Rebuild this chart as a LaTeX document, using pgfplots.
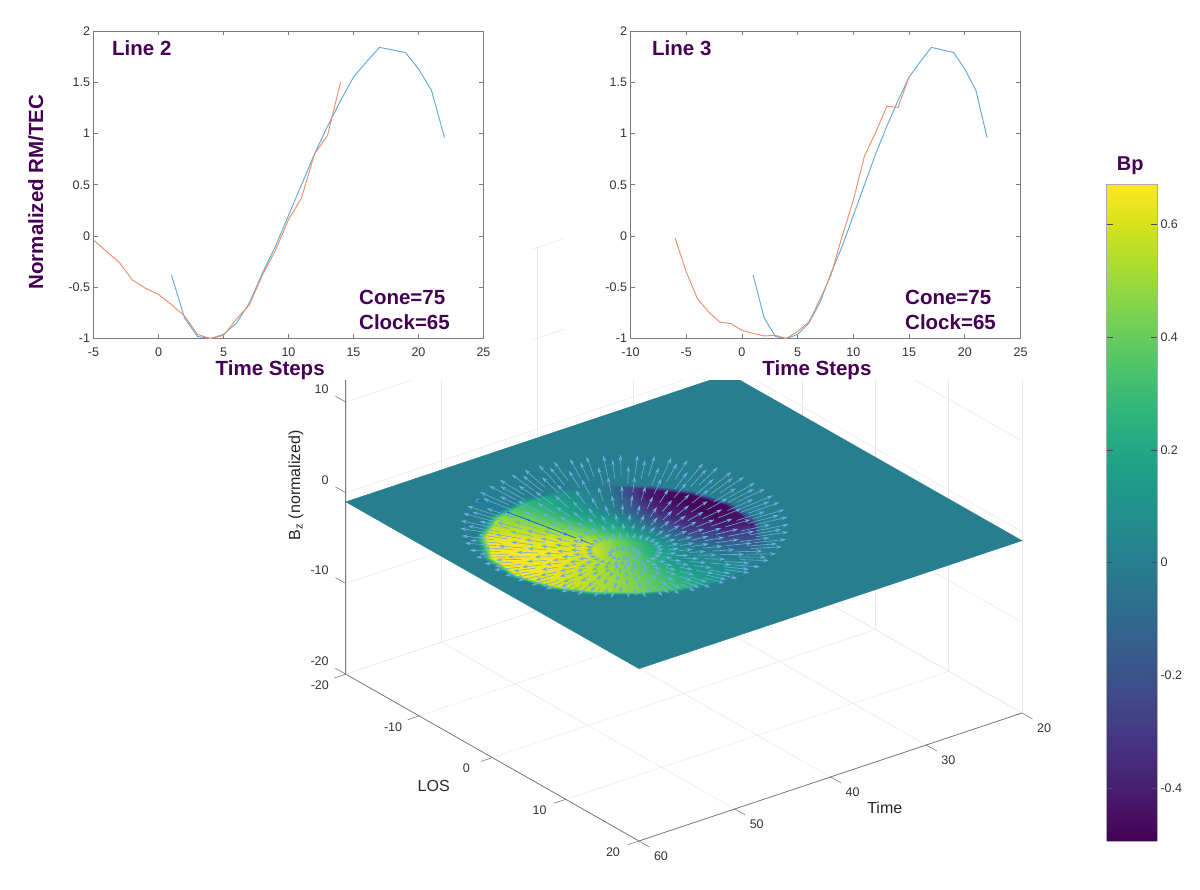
\documentclass[border=0pt]{standalone}
\usepackage{fontspec}
\setmainfont{Liberation Sans}
\usepackage{pgfplots}
\usepackage{pgfplotstable}
\pgfplotsset{compat=1.18}
\usetikzlibrary{arrows.meta}
\definecolor{labelpurple}{HTML}{440154}
\definecolor{lineblue}{HTML}{5AA7DC}
\definecolor{lineorange}{HTML}{EE8C66}
\definecolor{arrowblue}{HTML}{6AAEE0}
\definecolor{axisgray}{HTML}{7A7A7A}
\definecolor{ticktext}{HTML}{333333}

% Bp on the disc: angle, radius, value
\pgfplotstableread[row sep=\\]{
a r bp\\
0 0 .38\\20 0 .38\\40 0 .38\\60 0 .38\\80 0 .38\\100 0 .38\\120 0 .38\\140 0 .38\\160 0 .38\\180 0 .38\\200 0 .38\\220 0 .38\\240 0 .38\\260 0 .38\\280 0 .38\\300 0 .38\\320 0 .38\\340 0 .38\\360 0 .38\\
0 3 .58\\20 3 .54\\40 3 .48\\60 3 .42\\80 3 .34\\100 3 .25\\120 3 .20\\140 3 .12\\160 3 .05\\180 3 .02\\200 3 .02\\220 3 .08\\240 3 .18\\260 3 .22\\280 3 .32\\300 3 .43\\320 3 .55\\340 3 .60\\360 3 .58\\
0 6 .64\\20 6 .58\\40 6 .51\\60 6 .43\\80 6 .30\\100 6 .13\\120 6 .05\\140 6 -.08\\160 6 -.28\\180 6 -.35\\200 6 -.35\\220 6 -.22\\240 6 0\\260 6 .12\\280 6 .28\\300 6 .47\\320 6 .62\\340 6 .65\\360 6 .64\\
0 9 .66\\20 9 .60\\40 9 .53\\60 9 .45\\80 9 .30\\100 9 .12\\120 9 .03\\140 9 -.15\\160 9 -.42\\180 9 -.48\\200 9 -.48\\220 9 -.42\\240 9 -.02\\260 9 .10\\280 9 .27\\300 9 .48\\320 9 .64\\340 9 .67\\360 9 .66\\
0 10.8 .66\\20 10.3 .60\\40 9.9 .53\\60 9.9 .45\\80 10.2 .30\\100 10.7 .12\\120 11.1 .03\\140 11.3 -.15\\160 11.2 -.42\\180 10.8 -.48\\200 10.3 -.48\\220 9.9 -.42\\240 9.9 -.02\\260 10.2 .10\\280 10.7 .27\\300 11.1 .48\\320 11.3 .64\\340 11.2 .67\\360 10.8 .66\\
0 11.6 0\\20 11.1 0\\40 10.7 0\\60 10.6 0\\80 10.9 0\\100 11.5 0\\120 12 0\\140 12.2 0\\160 12.1 0\\180 11.6 0\\200 11.1 0\\220 10.7 0\\240 10.6 0\\260 10.9 0\\280 11.5 0\\300 12 0\\320 12.2 0\\340 12.1 0\\360 11.6 0\\
}\disctable

% arrow feet: angle, radius
\pgfplotstableread[row sep=\\]{
a r\\
0 1.2\\24 1.2\\48 1.2\\72 1.2\\96 1.2\\120 1.2\\144 1.2\\168 1.2\\192 1.2\\216 1.2\\240 1.2\\264 1.2\\288 1.2\\312 1.2\\336 1.2\\
0 2.6\\12 2.6\\24 2.6\\36 2.6\\48 2.6\\60 2.6\\72 2.6\\84 2.6\\96 2.6\\108 2.6\\120 2.6\\132 2.6\\144 2.6\\156 2.6\\168 2.6\\180 2.6\\192 2.6\\204 2.6\\216 2.6\\228 2.6\\240 2.6\\252 2.6\\264 2.6\\276 2.6\\288 2.6\\300 2.6\\312 2.6\\324 2.6\\336 2.6\\348 2.6\\
0 4.6\\12 4.6\\24 4.6\\36 4.6\\48 4.6\\60 4.6\\72 4.6\\84 4.6\\96 4.6\\108 4.6\\120 4.6\\132 4.6\\144 4.6\\156 4.6\\168 4.6\\180 4.6\\192 4.6\\204 4.6\\216 4.6\\228 4.6\\240 4.6\\252 4.6\\264 4.6\\276 4.6\\288 4.6\\300 4.6\\312 4.6\\324 4.6\\336 4.6\\348 4.6\\
0 6.6\\12 6.6\\24 6.6\\36 6.6\\48 6.6\\60 6.6\\72 6.6\\84 6.6\\96 6.6\\108 6.6\\120 6.6\\132 6.6\\144 6.6\\156 6.6\\168 6.6\\180 6.6\\192 6.6\\204 6.6\\216 6.6\\228 6.6\\240 6.6\\252 6.6\\264 6.6\\276 6.6\\288 6.6\\300 6.6\\312 6.6\\324 6.6\\336 6.6\\348 6.6\\
0 8.6\\12 8.6\\24 8.6\\36 8.6\\48 8.6\\60 8.6\\72 8.6\\84 8.6\\96 8.6\\108 8.6\\120 8.6\\132 8.6\\144 8.6\\156 8.6\\168 8.6\\180 8.6\\192 8.6\\204 8.6\\216 8.6\\228 8.6\\240 8.6\\252 8.6\\264 8.6\\276 8.6\\288 8.6\\300 8.6\\312 8.6\\324 8.6\\336 8.6\\348 8.6\\
0 10.9\\12 10.9\\24 10.9\\36 10.9\\48 10.9\\60 10.9\\72 10.9\\84 10.9\\96 10.9\\108 10.9\\120 10.9\\132 10.9\\144 10.9\\156 10.9\\168 10.9\\180 10.9\\192 10.9\\204 10.9\\216 10.9\\228 10.9\\240 10.9\\252 10.9\\264 10.9\\276 10.9\\288 10.9\\300 10.9\\312 10.9\\324 10.9\\336 10.9\\348 10.9\\
6 3.6\\18 3.6\\30 3.6\\42 3.6\\54 3.6\\66 3.6\\78 3.6\\90 3.6\\102 3.6\\114 3.6\\126 3.6\\138 3.6\\150 3.6\\162 3.6\\174 3.6\\186 3.6\\198 3.6\\210 3.6\\222 3.6\\234 3.6\\246 3.6\\258 3.6\\270 3.6\\282 3.6\\294 3.6\\306 3.6\\318 3.6\\330 3.6\\342 3.6\\354 3.6\\
6 5.6\\18 5.6\\30 5.6\\42 5.6\\54 5.6\\66 5.6\\78 5.6\\90 5.6\\102 5.6\\114 5.6\\126 5.6\\138 5.6\\150 5.6\\162 5.6\\174 5.6\\186 5.6\\198 5.6\\210 5.6\\222 5.6\\234 5.6\\246 5.6\\258 5.6\\270 5.6\\282 5.6\\294 5.6\\306 5.6\\318 5.6\\330 5.6\\342 5.6\\354 5.6\\
6 7.6\\18 7.6\\30 7.6\\42 7.6\\54 7.6\\66 7.6\\78 7.6\\90 7.6\\102 7.6\\114 7.6\\126 7.6\\138 7.6\\150 7.6\\162 7.6\\174 7.6\\186 7.6\\198 7.6\\210 7.6\\222 7.6\\234 7.6\\246 7.6\\258 7.6\\270 7.6\\282 7.6\\294 7.6\\306 7.6\\318 7.6\\330 7.6\\342 7.6\\354 7.6\\
6 10.9\\18 10.9\\30 10.9\\42 10.9\\54 10.9\\66 10.9\\78 10.9\\90 10.9\\102 10.9\\114 10.9\\126 10.9\\138 10.9\\150 10.9\\162 10.9\\174 10.9\\186 10.9\\198 10.9\\210 10.9\\222 10.9\\234 10.9\\246 10.9\\258 10.9\\270 10.9\\282 10.9\\294 10.9\\306 10.9\\318 10.9\\330 10.9\\342 10.9\\354 10.9\\
3 9.7\\15 9.7\\27 9.7\\39 9.7\\51 9.7\\63 9.7\\75 9.7\\87 9.7\\99 9.7\\111 9.7\\123 9.7\\135 9.7\\147 9.7\\159 9.7\\171 9.7\\183 9.7\\195 9.7\\207 9.7\\219 9.7\\231 9.7\\243 9.7\\255 9.7\\267 9.7\\279 9.7\\291 9.7\\303 9.7\\315 9.7\\327 9.7\\339 9.7\\351 9.7\\
9 10.4\\21 10.4\\33 10.4\\45 10.4\\57 10.4\\69 10.4\\81 10.4\\93 10.4\\105 10.4\\117 10.4\\129 10.4\\141 10.4\\153 10.4\\165 10.4\\177 10.4\\189 10.4\\201 10.4\\213 10.4\\225 10.4\\237 10.4\\249 10.4\\261 10.4\\273 10.4\\285 10.4\\297 10.4\\309 10.4\\321 10.4\\333 10.4\\345 10.4\\357 10.4\\
}\arrowtable

% the one darker spoke on the yellow side
\pgfplotstableread[row sep=\\]{
a r\\
300 3.2\\300 4.4\\300 5.6\\300 7\\300 8.5\\300 10.9\\
}\darkspoke

\pgfplotsset{
  colormap name=viridis,
  every axis/.append style={
    /pgf/number format/assume math mode=true,
    tick label style={font=\fontsize{12.5}{14}\selectfont,text=ticktext},
    axis line style={axisgray,line width=.8pt},
    tick style={axisgray,line width=.6pt},
  },
  toppanel/.style={
    scale only axis,width=390pt,height=307.5pt,
    ymin=-1,ymax=2,ytick={-1,-0.5,...,2},
    tick align=inside,major tick length=4.5pt,
    xticklabel style={yshift=-6pt},
    xlabel style={font=\fontsize{20.5}{24}\selectfont\bfseries,text=labelpurple},
    ylabel style={font=\fontsize{20.5}{24}\selectfont\bfseries,text=labelpurple},
  },
}

\begin{document}
\begin{tikzpicture}[x=1pt,y=1pt]
\path[use as bounding box] (0,0) rectangle (1200,890);

% 3D panel, with its own unit vectors
\begin{axis}[
  at={(875.4pt,441.8pt)},anchor=origin,clip=false,
  x={(-9.575pt,-3.2pt)},y={(7.33pt,-4.17pt)},z={(0pt,9.07pt)},
  xmin=20,xmax=60,ymin=-20,ymax=20,zmin=-20,zmax=20,
  xtick={20,30,...,60},ytick={-20,-10,...,20},ztick={-20,-10,...,20},
  grid=major,grid style={gray!18,line width=.5pt},
  axis x line*=bottom,axis y line*=left,axis z line*=left,
  major tick length=0pt,
  xticklabel style={anchor=center,xshift=22pt,yshift=-15pt},
  yticklabel style={anchor=center,xshift=-26pt,yshift=-11pt},
  zticklabel style={anchor=east,inner sep=0pt,xshift=-17pt,yshift=13pt},
  point meta min=-0.494,point meta max=0.671,
  xlabel={Time},ylabel={LOS},zlabel={B\textsubscript{z} (normalized)},
  label style={font=\fontsize{16}{18}\selectfont,text=black!85},
  x label style={at={(axis cs:40,27.4,-20)},anchor=center,sloped=false,rotate=0},
  y label style={at={(axis cs:67.2,1.4,-20)},anchor=center,sloped=false,rotate=0},
  z label style={at={(axis cs:63.3,-22.5,0.85)},anchor=center,rotate=0},
]
% the flat sheet
\addplot3[surf,shader=flat,mesh/rows=2,mesh/cols=2,point meta=0] coordinates {
  (20,-20,-1) (60,-20,-1)
  (20,20,-1) (60,20,-1)
};
% Bp on the disc
\addplot3[surf,shader=interp,mesh/rows=6,mesh/cols=19,point meta=\thisrow{bp}]
  table[x expr={46.25+\thisrow{r}*cos(\thisrow{a})},y expr={-0.3+\thisrow{r}*sin(\thisrow{a})},z expr={-1}] {\disctable};
% arrows
\addplot3[arrowblue,line width=.6pt,
  quiver={u={0.25*\thisrow{r}*cos(\thisrow{a})},v={0.25*\thisrow{r}*sin(\thisrow{a})},w={0.06*\thisrow{r}},
    every arrow/.append style={-{Stealth[length=6pt,width=3.6pt]}}}]
  table[x index=0,y index=1,z index=0,x expr={46.2+\thisrow{r}*cos(\thisrow{a})},y expr={\thisrow{r}*sin(\thisrow{a})},z expr={-2.7+0.245*\thisrow{r}}] {\arrowtable};
\addplot3[blue!55!cyan!85!black,line width=.65pt,
  quiver={u={0.25*\thisrow{r}*cos(\thisrow{a})},v={0.25*\thisrow{r}*sin(\thisrow{a})},w={0.06*\thisrow{r}},
    every arrow/.append style={-{Stealth[length=3pt,width=2pt]}}}]
  table[x index=0,y index=1,z index=0,x expr={46.2+\thisrow{r}*cos(\thisrow{a})},y expr={\thisrow{r}*sin(\thisrow{a})},z expr={-2.7+0.245*\thisrow{r}}] {\darkspoke};
% ticks run along the other floor edge, as in the reference
\pgfplotsinvokeforeach{20,30,40,50,60}{\draw[axisgray,line width=.6pt] (axis cs:#1,20,-20) -- (axis cs:#1,21.42,-20);}
\pgfplotsinvokeforeach{-20,-10,0,10,20}{\draw[axisgray,line width=.6pt] (axis cs:60,#1,-20) -- (axis cs:61.19,#1,-20);}
\pgfplotsinvokeforeach{-20,-10,0,10}{\draw[axisgray,line width=.6pt] (axis cs:60,-20,#1) -- (axis cs:60,-21.42,#1);}
\end{axis}

% the two line panels sit on white that hides the top of the 3D box
\fill[white] (0,510) rectangle (531,890);
\fill[white] (565,510) rectangle (1060,890);

\begin{axis}[toppanel,at={(93.5pt,551.5pt)},anchor=south west,
  xmin=-5,xmax=25,xtick={-5,0,...,25},
  xlabel={Time Steps},ylabel={Normalized RM/TEC},
  xlabel style={at={(axis description cs:0.453,-0.103)},anchor=center},
  ylabel style={at={(axis description cs:-0.1475,0.476)},anchor=center},
]
\addplot[lineblue,line width=.9pt] coordinates {
  (1,-0.38) (2,-0.8) (3,-0.98) (4,-1.0) (5,-0.96) (6,-0.85) (7,-0.65) (8,-0.36) (9,-0.1) (10,0.2) (11,0.5)
  (12,0.8) (13,1.07) (14,1.32) (15,1.55) (16,1.7) (17,1.84) (18,1.815) (19,1.79) (20,1.63) (21,1.42) (22,0.96)
};
\addplot[lineorange,line width=.9pt] coordinates {
  (-5,-0.04) (-4,-0.15) (-3,-0.26) (-2,-0.43) (-1,-0.51) (0,-0.57) (1,-0.67) (2,-0.78) (3,-0.96) (4,-1.0)
  (5,-0.97) (6,-0.81) (7,-0.67) (8,-0.38) (9,-0.14) (10,0.16) (11,0.37) (12,0.8) (13,0.98) (14,1.5)
};
\end{axis}

\begin{axis}[toppanel,at={(630.5pt,551.5pt)},anchor=south west,
  xmin=-10,xmax=25,xtick={-10,-5,...,25},
  xlabel={Time Steps},
  xlabel style={at={(axis description cs:0.478,-0.103)},anchor=center},
]
\addplot[lineblue,line width=.9pt] coordinates {
  (1,-0.38) (2,-0.8) (3,-0.98) (4,-1.0) (5,-0.96) (6,-0.85) (7,-0.65) (8,-0.36) (9,-0.1) (10,0.2) (11,0.5)
  (12,0.8) (13,1.07) (14,1.32) (15,1.55) (16,1.7) (17,1.84) (18,1.815) (19,1.79) (20,1.63) (21,1.42) (22,0.96)
};
\addplot[lineorange,line width=.9pt] coordinates {
  (-6,-0.02) (-5,-0.35) (-4,-0.61) (-3,-0.74) (-2,-0.84) (-1,-0.855) (0,-0.92) (1,-0.95) (2,-0.975) (3,-0.97) (4,-1.0)
  (5,-0.93) (6,-0.84) (7,-0.62) (8,-0.38) (9,0.0) (10,0.35) (11,0.78) (12,1.01) (13,1.265) (14,1.255) (15,1.55)
};
\end{axis}

% colour bar
\begin{axis}[at={(1106.5pt,49pt)},anchor=south west,scale only axis,width=50.5pt,height=656.5pt,
  view={0}{90},xmin=0,xmax=1,ymin=-0.494,ymax=0.671,
  xtick=\empty,ztick=\empty,ytick={-0.4,-0.2,...,0.6},
  yticklabel pos=right,tick align=inside,major tick length=6pt,
  axis line style={gray!65,line width=.8pt},tick style={black!70,line width=.6pt},
  point meta min=-0.494,point meta max=0.671,
  title={Bp},title style={font=\fontsize{20}{24}\selectfont\bfseries,text=labelpurple,at={(0.47,1)},yshift=0pt},
]
\addplot3[surf,shader=interp,mesh/rows=2,mesh/cols=2,point meta=y] coordinates {
  (0,-0.494,0) (1,-0.494,0)
  (0,0.671,0) (1,0.671,0)
};
\end{axis}

\begin{scope}[every node/.style={font=\fontsize{20.5}{24}\selectfont\bfseries,text=labelpurple,anchor=west,inner sep=0pt}]
\node at (112,842) {Line 2};
\node at (359,593) {Cone=75};
\node at (359,568) {Clock=65};
\node at (652,842) {Line 3};
\node at (905,593) {Cone=75};
\node at (905,568) {Clock=65};
\end{scope}
\end{tikzpicture}
\end{document}
